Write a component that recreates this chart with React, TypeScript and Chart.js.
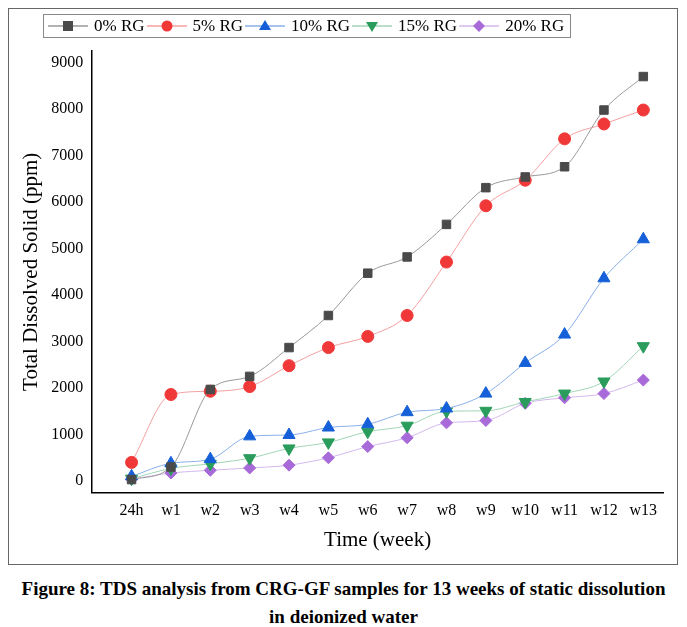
import React, { useEffect, useRef } from "react";
import { Chart, registerables } from "chart.js";
Chart.register(...registerables);

const categories = ["24h","w1","w2","w3","w4","w5","w6","w7","w8","w9","w10","w11","w12","w13"];
const rg0 = [30, 300, 1970, 2250, 2870, 3560, 4470, 4820, 5520, 6310, 6540, 6760, 7980, 8700];
const rg5 = [400, 1860, 1930, 2030, 2480, 2870, 3110, 3560, 4710, 5920, 6470, 7360, 7680, 7980];
const rg10 = [100, 380, 470, 960, 990, 1150, 1220, 1480, 1560, 1880, 2540, 3150, 4360, 5200];
const rg15 = [50, 270, 370, 490, 700, 830, 1060, 1190, 1500, 1510, 1700, 1880, 2140, 2900];
const rg20 = [40, 170, 230, 280, 340, 500, 740, 930, 1250, 1300, 1670, 1790, 1880, 2170];
const yTicks = [0, 1000, 2000, 3000, 4000, 5000, 6000, 7000, 8000, 9000];

const serif = "'Liberation Serif', 'Times New Roman', serif";

const legendItems = [
  { label: "0% RG", color: "#4a4a4a", line: "#999", shape: "square" },
  { label: "5% RG", color: "#f03838", line: "#f4a0a0", shape: "circle" },
  { label: "10% RG", color: "#1560d8", line: "#8ab0ea", shape: "up" },
  { label: "15% RG", color: "#2a9c5c", line: "#a0d6b6", shape: "down" },
  { label: "20% RG", color: "#a86ad8", line: "#d4b8ee", shape: "diamond" },
];

function Marker({ shape, color, line }: any) {
  let m: any;
  if (shape === "square") m = <rect x={15} y={5} width={10} height={10} fill={color} />;
  else if (shape === "circle") m = <circle cx={20} cy={10} r={5.5} fill={color} />;
  else if (shape === "up") m = <polygon points="20,4 26,14 14,14" fill={color} />;
  else if (shape === "down") m = <polygon points="14,6 26,6 20,16" fill={color} />;
  else m = <polygon points="20,4 26,10 20,16 14,10" fill={color} />;
  return (
    <svg width={40} height={20} style={{ verticalAlign: "middle" }}>
      <line x1={0} y1={10} x2={40} y2={10} stroke={line} strokeWidth={1.5} />
      {m}
    </svg>
  );
}

export default function App() {
  const ref = useRef<HTMLCanvasElement>(null);
  useEffect(() => {
    const mk = (label: string, data: number[], color: string, line: string, style: any, r: number, rot = 0) => ({
      label,
      data: data.map((v, i) => ({ x: i, y: v })),
      borderColor: line,
      backgroundColor: color,
      pointBorderColor: color,
      pointBackgroundColor: color,
      pointStyle: style,
      pointRadius: r,
      pointRotation: rot,
      borderWidth: 1,
      tension: 0.4,
      cubicInterpolationMode: "monotone" as any,
    });
    const chart = new Chart(ref.current!, {
      type: "line",
      data: {
        datasets: [
          mk("0% RG", rg0, "#4a4a4a", "#999", "rect", 6),
          mk("5% RG", rg5, "#f03838", "#f4a0a0", "circle", 6),
          mk("10% RG", rg10, "#1560d8", "#8ab0ea", "triangle", 7),
          mk("15% RG", rg15, "#2a9c5c", "#a0d6b6", "triangle", 7, 180),
          mk("20% RG", rg20, "#a86ad8", "#d4b8ee", "rectRot", 6),
        ],
      },
      options: {
        animation: false,
        responsive: false,
        layout: { padding: { left: 4, right: 12, top: 40, bottom: 4 } },
        plugins: {
          legend: { display: false },
          tooltip: { enabled: false },
        },
        scales: {
          x: {
            type: "linear",
            min: -1,
            max: 13.5,
            afterBuildTicks: (s: any) => { s.ticks = categories.map((_, i) => ({ value: i })); },
            ticks: { callback: (v: any) => categories[v as number] ?? "", color: "#000", font: { family: serif, size: 16 }, maxRotation: 0, autoSkip: false },
            grid: { display: false, drawTicks: true, tickLength: 6, color: "#000" },
            border: { color: "#000", width: 1.5 },
            title: { display: true, text: "Time (week)", color: "#000", font: { family: serif, size: 21 } },
          },
          y: {
            min: -250,
            max: 9250,
            afterBuildTicks: (s: any) => { s.ticks = yTicks.map((v) => ({ value: v })); },
            ticks: { callback: (v: any) => String(v), color: "#000", font: { family: serif, size: 16 } },
            grid: { display: false, drawTicks: true, tickLength: 6, color: "#000" },
            border: { color: "#000", width: 1.5 },
            title: { display: true, text: "Total Dissolved Solid (ppm)", color: "#000", font: { family: serif, size: 21 } },
          },
        },
      },
    });
    return () => chart.destroy();
  }, []);
  return (
    <div style={{ width: 671 }}>
      <div style={{ border: "1.5px solid #666", width: 668, height: 555, position: "relative" }}>
        <canvas ref={ref} width={664} height={550} style={{ display: "block", margin: 2 }} />
        <div style={{ position: "absolute", left: 34, top: 5, border: "1px solid #888", padding: "1px 4px", fontFamily: serif, fontSize: 17, whiteSpace: "nowrap", display: "flex", alignItems: "center" }}>
          {legendItems.map((it) => (
            <span key={it.label} style={{ display: "inline-flex", alignItems: "center" }}>
              <Marker shape={it.shape} color={it.color} line={it.line} />
              <span style={{ margin: "0 2px 0 6px" }}>{it.label}</span>
            </span>
          ))}
        </div>
      </div>
      <div style={{ fontFamily: serif, fontWeight: "bold", fontSize: 19, textAlign: "center", marginTop: 10, lineHeight: "28px" }}>
        Figure 8: TDS analysis from CRG-GF samples for 13 weeks of static dissolution<br />in deionized water
      </div>
    </div>
  );
}
